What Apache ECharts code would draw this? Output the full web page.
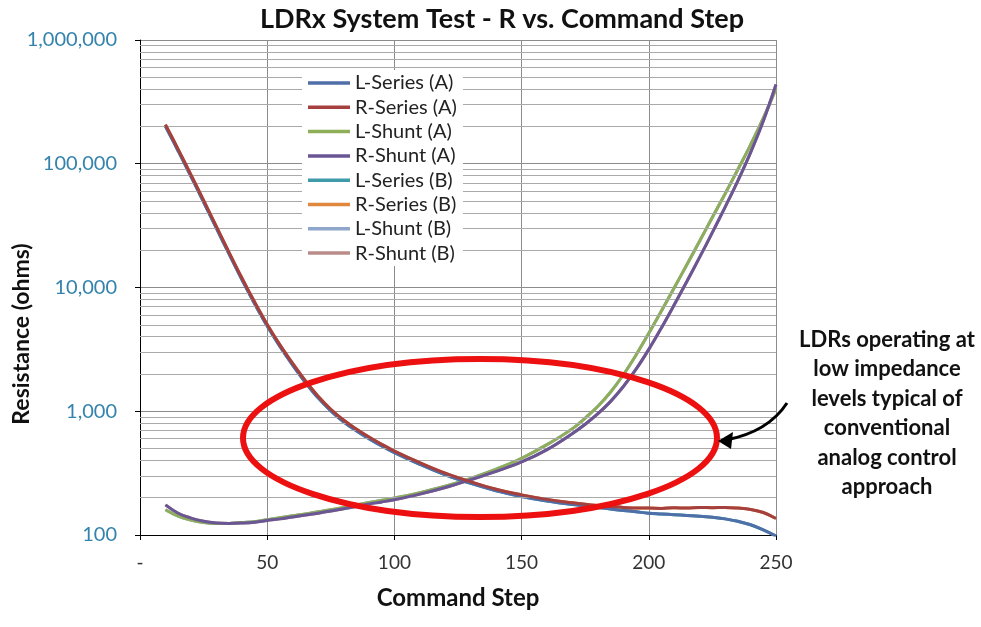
<!DOCTYPE html>
<html>
<head>
<meta charset="utf-8">
<title>LDRx System Test</title>
<script src="https://cdn.jsdelivr.net/npm/echarts@6/dist/echarts.min.js"></script>
<style>
  html, body { margin: 0; padding: 0; background: #fff; }
  #main { width: 981px; height: 627px; }
</style>
</head>
<body>
<div id="main"></div>
<script>
// command steps (x)
var steps = [10, 15, 20, 25, 30, 35, 40, 45, 50, 55, 60, 65, 70, 75, 80, 85, 90, 95, 100,
  110, 120, 130, 140, 150, 160, 170, 175, 180, 185, 190, 195, 200, 205, 210, 215, 220,
  225, 230, 235, 240, 245, 250];

// resistance (ohms)
var lSeriesA = [200900, 126900, 79100, 49080, 30270, 18670, 11640, 7430, 4880, 3337, 2363, 1712, 1283, 1008, 823, 697, 601, 524, 463,
  372, 306, 261, 228, 205, 188, 176, 172, 167, 162, 158, 154, 150, 148, 146, 144, 142,
  139, 135, 129, 121, 110, 98];
var rSeriesA = [207100, 130700, 81560, 50580, 31190, 19230, 12000, 7660, 5030, 3439, 2435, 1764, 1323, 1038, 849, 719, 619, 540, 477,
  384, 316, 269, 234, 211, 194, 182, 177, 173, 170, 167, 165, 165, 164, 166, 165, 167,
  166, 167, 165, 161, 152, 136];
var lShuntA = [160, 142, 132, 126, 124, 124, 126, 128, 133, 138, 143, 148, 154, 160, 167, 175, 183, 191, 199,
  220, 248, 287, 341, 417, 537, 724, 881, 1096, 1429, 1972, 2851, 4266, 6486, 9954, 15350, 23770,
  36980, 57280, 89740, 142200, 233300, 405000];
var rShuntA = [175, 150, 137, 129, 125, 124, 125, 127, 131, 135, 140, 145, 150, 156, 163, 170, 178, 185, 193,
  214, 242, 280, 327, 389, 490, 661, 785, 955, 1202, 1585, 2188, 3162, 4732, 7244, 11220, 17580,
  27860, 44670, 72780, 123000, 221300, 436500];
// second run sits underneath the first one
var lSeriesB = lSeriesA.slice();
var rSeriesB = rSeriesA.slice();
var lShuntB = lShuntA.slice();
var rShuntB = rShuntA.slice();

var names = ['L-Series (A)', 'R-Series (A)', 'L-Shunt (A)', 'R-Shunt (A)',
  'L-Series (B)', 'R-Series (B)', 'L-Shunt (B)', 'R-Shunt (B)'];
var colors = ['#4f6fa8', '#a5403f', '#8fae5a', '#6a5694', '#3f9aaa', '#e0883d', '#8ea6c9', '#b98c8a'];
var values = [lSeriesA, rSeriesA, lShuntA, rShuntA, lSeriesB, rSeriesB, lShuntB, rShuntB];
// draw order: B first, then A (later on top)
var zOrder = [4, 6, 3, 5, 1, 1, 1, 1];

var minorGrid = [];
[100, 1000, 10000, 100000].forEach(function (d) {
  for (var k = 2; k <= 9; k++) minorGrid.push({ yAxis: d * k });
});

var font = 'Lato, "Open Sans", sans-serif';

function pairs(arr) {
  return steps.map(function (s, i) { return [s, arr[i]]; });
}

var series = names.map(function (n, i) {
  return {
    name: n,
    type: 'line',
    data: pairs(values[i]),
    smooth: 0.4,
    symbol: 'none',
    showSymbol: false,
    z: zOrder[i],
    lineStyle: { width: 3, color: colors[i] },
    itemStyle: { color: colors[i] }
  };
});
series.push({
  name: 'minor',
  type: 'line',
  data: [],
  z: 0,
  silent: true,
  markLine: {
    silent: true,
    symbol: ['none', 'none'],
    label: { show: false },
    lineStyle: { color: '#aaaaaa', width: 1, type: 'solid' },
    emphasis: { disabled: true },
    data: minorGrid
  }
});

var myChart = echarts.init(document.getElementById('main'));

var option = {
  backgroundColor: '#fff',
  animation: false,
  textStyle: { fontFamily: font },
  title: {
    text: 'LDRx System Test - R vs. Command Step',
    left: 497,
    top: 1,
    textAlign: 'center',
    textStyle: { fontFamily: font, fontSize: 27, fontWeight: 'bold', color: '#111' }
  },
  legend: {
    data: names,
    orient: 'vertical',
    left: 302,
    top: 70,
    padding: [3, 6, 3, 6],
    backgroundColor: '#fff',
    icon: 'rect',
    itemWidth: 42,
    itemHeight: 3.5,
    itemGap: 4.3,
    textStyle: { fontFamily: font, fontSize: 20, lineHeight: 20, color: '#222' },
    z: 10
  },
  grid: { left: 140, right: 205, top: 40, bottom: 92 },
  xAxis: {
    type: 'value',
    min: 0,
    max: 250,
    interval: 50,
    name: 'Command Step',
    nameLocation: 'middle',
    nameGap: 51,
    nameTextStyle: { fontFamily: font, fontSize: 24, fontWeight: 'bold', color: '#111' },
    axisLine: { lineStyle: { color: '#000', width: 1 } },
    axisTick: { show: true, length: 5, lineStyle: { color: '#000' } },
    axisLabel: {
      fontSize: 19, color: '#333', margin: 18,
      formatter: function (v) { return v === 0 ? '-' : v; }
    },
    splitLine: { show: true, lineStyle: { color: '#8c8c8c', width: 1 } }
  },
  yAxis: {
    type: 'log',
    logBase: 10,
    min: 100,
    max: 1000000,
    axisLine: { show: true, lineStyle: { color: '#000', width: 1 } },
    axisTick: { show: true, length: 5, lineStyle: { color: '#000' } },
    axisLabel: {
      fontSize: 20, color: '#3483ad', margin: 23,
      formatter: function (v) { return Math.round(v).toLocaleString('en-US'); }
    },
    splitLine: { show: true, lineStyle: { color: '#8c8c8c', width: 1 } },
    minorTick: { show: false },
    minorSplitLine: { show: false }
  },
  graphic: [
    {
      // y axis title sits lower than the plot middle in the original
      type: 'text',
      x: 22,
      y: 334,
      rotation: Math.PI / 2,
      style: {
        text: 'Resistance (ohms)',
        font: 'bold 23px ' + font,
        fill: '#111',
        textAlign: 'center',
        textVerticalAlign: 'middle'
      }
    },
    {
      type: 'ellipse',
      shape: { cx: 480, cy: 438, rx: 237, ry: 79 },
      style: { fill: null, stroke: '#ec1010', lineWidth: 6 },
      z: 100
    },
    {
      type: 'bezierCurve',
      shape: { x1: 787, y1: 403, cpx1: 768, cpy1: 432, x2: 726, y2: 440 },
      style: { fill: null, stroke: '#000', lineWidth: 3 },
      z: 100
    },
    {
      type: 'polygon',
      shape: { points: [[718, 441], [733, 432], [731, 449]] },
      style: { fill: '#000' },
      z: 100
    },
    {
      type: 'text',
      x: 887,
      y: 325,
      style: {
        text: 'LDRs operating at\nlow impedance\nlevels typical of\nconventional\nanalog control\napproach',
        font: 'bold 22px ' + font,
        fill: '#111',
        textAlign: 'center',
        textVerticalAlign: 'top',
        lineHeight: 29.5
      },
      z: 100
    }
  ],
  series: series
};

myChart.setOption(option);
</script>
</body>
</html>
